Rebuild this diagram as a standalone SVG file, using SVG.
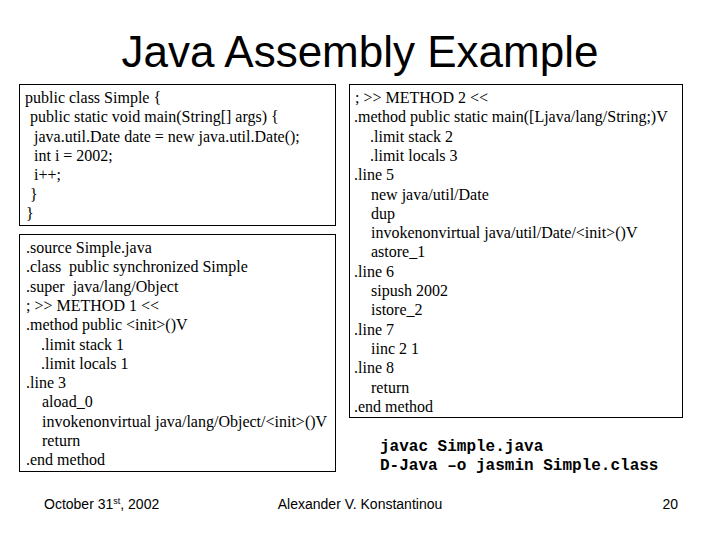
<svg xmlns="http://www.w3.org/2000/svg" width="720" height="540" viewBox="0 0 720 540">
<style>
.box{fill:#fff;stroke:#000;stroke-width:1}
.code{font-family:"Liberation Serif","Times New Roman",serif;font-size:16px;fill:#000}
.cmd{font-family:"Liberation Mono","Courier New",monospace;font-size:16px;font-weight:bold;fill:#000}
.title{font-family:"Liberation Sans",Arial,sans-serif;font-size:44px;fill:#000}
.foot{font-family:"Liberation Sans",Arial,sans-serif;font-size:14px;fill:#000}
</style>
<rect width="720" height="540" fill="#fff"/>
<g id="title">
<text class="title" x="360" y="67" text-anchor="middle">Java Assembly Example</text>
</g>
<g id="connectors"></g>
<g id="java-source">
<rect class="box" x="19.5" y="84.5" width="316" height="141"/>
<text class="code" x="25" y="103">public class Simple {</text>
<text class="code" x="30" y="122.3">public static void main(String[] args) {</text>
<text class="code" x="34" y="141.6">java.util.Date date = new java.util.Date();</text>
<text class="code" x="34" y="160.9">int i = 2002;</text>
<text class="code" x="34" y="180.2">i++;</text>
<text class="code" x="30" y="199.5">}</text>
<text class="code" x="26" y="218.8">}</text>
</g>
<g id="jasmin-method1">
<rect class="box" x="19.5" y="234.5" width="316" height="237"/>
<text class="code" x="26" y="253">.source Simple.java</text>
<text class="code" x="26" y="272.3">.class&#160; public synchronized Simple</text>
<text class="code" x="26" y="291.6">.super&#160; java/lang/Object</text>
<text class="code" x="26" y="310.9">; &gt;&gt; METHOD 1 &lt;&lt;</text>
<text class="code" x="26" y="330.2">.method public &lt;init&gt;()V</text>
<text class="code" x="41" y="349.5">.limit stack 1</text>
<text class="code" x="41" y="368.8">.limit locals 1</text>
<text class="code" x="26" y="388.1">.line 3</text>
<text class="code" x="42" y="407.4">aload_0</text>
<text class="code" x="42" y="426.7">invokenonvirtual java/lang/Object/&lt;init&gt;()V</text>
<text class="code" x="42" y="446">return</text>
<text class="code" x="26" y="465.3">.end method</text>
</g>
<g id="jasmin-method2">
<rect class="box" x="349.5" y="84.5" width="333" height="333"/>
<text class="code" x="355" y="103">; &gt;&gt; METHOD 2 &lt;&lt;</text>
<text class="code" x="354" y="122.3">.method public static main([Ljava/lang/String;)V</text>
<text class="code" x="370" y="141.6">.limit stack 2</text>
<text class="code" x="370" y="160.9">.limit locals 3</text>
<text class="code" x="354" y="180.2">.line 5</text>
<text class="code" x="371" y="199.5">new java/util/Date</text>
<text class="code" x="371" y="218.8">dup</text>
<text class="code" x="371" y="238.1">invokenonvirtual java/util/Date/&lt;init&gt;()V</text>
<text class="code" x="371" y="257.4">astore_1</text>
<text class="code" x="354" y="276.7">.line 6</text>
<text class="code" x="371" y="296">sipush 2002</text>
<text class="code" x="371" y="315.3">istore_2</text>
<text class="code" x="354" y="334.6">.line 7</text>
<text class="code" x="371" y="353.9">iinc 2 1</text>
<text class="code" x="354" y="373.2">.line 8</text>
<text class="code" x="371" y="392.5">return</text>
<text class="code" x="354" y="411.8">.end method</text>
</g>
<g id="commands">
<text class="cmd" x="380" y="451">javac Simple.java</text>
<text class="cmd" x="380" y="470">D-Java –o jasmin Simple.class</text>
</g>
<g id="footer">
<text class="foot" x="44" y="509">October 31<tspan font-size="9" dy="-5">st</tspan><tspan dy="5">, 2002</tspan></text>
<text class="foot" x="360" y="509" text-anchor="middle">Alexander V. Konstantinou</text>
<text class="foot" x="678" y="509" text-anchor="end">20</text>
</g>
</svg>
